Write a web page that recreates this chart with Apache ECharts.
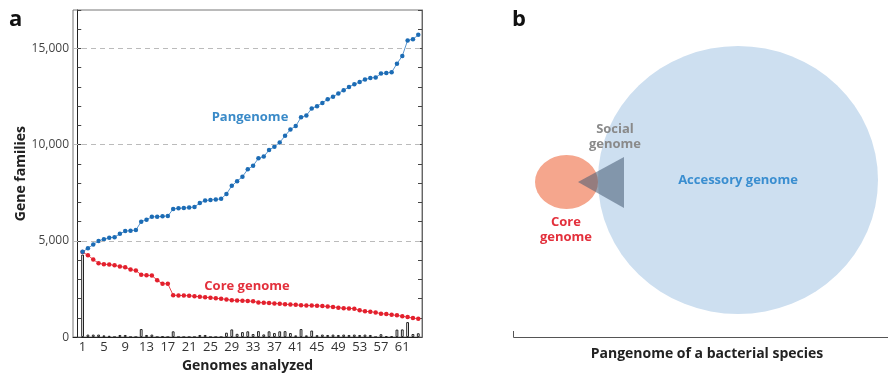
<!DOCTYPE html>
<html>
<head>
<meta charset="utf-8">
<script src="https://cdn.jsdelivr.net/npm/echarts@6/dist/echarts.min.js"></script>
<style>html,body{margin:0;padding:0;background:#fff}#c{width:888px;height:378px}</style>
</head>
<body>
<div id="c"></div>
<script>
const genomes = [1,2,3,4,5,6,7,8,9,10,11,12,13,14,15,16,17,18,19,20,21,22,23,24,25,26,27,28,29,30,31,32,33,34,35,36,37,38,39,40,41,42,43,44,45,46,47,48,49,50,51,52,53,54,55,56,57,58,59,60,61,62,63,64];
const pangenome = [4430,4620,4810,5000,5090,5165,5195,5365,5510,5530,5560,6000,6105,6250,6255,6285,6295,6655,6700,6705,6730,6765,6970,7095,7130,7150,7185,7440,7860,8100,8340,8720,8910,9290,9380,9720,9895,10120,10460,10790,10970,11420,11520,11880,12000,12170,12365,12485,12660,12830,13000,13140,13260,13385,13470,13490,13695,13725,13765,14210,14610,15420,15475,15715];
const coreGenome = [4420,4250,4030,3840,3790,3770,3730,3670,3630,3510,3460,3240,3220,3200,2960,2770,2770,2180,2165,2160,2145,2125,2095,2070,2045,2020,1995,1960,1920,1905,1890,1880,1860,1800,1785,1770,1750,1730,1710,1690,1675,1660,1645,1640,1625,1610,1590,1570,1525,1505,1490,1475,1390,1340,1320,1285,1215,1195,1160,1130,1080,1040,990,950];
const newGenes = [4290,130,130,130,90,70,0,110,110,0,0,420,110,130,0,30,0,300,0,0,0,0,110,110,0,0,0,230,400,170,260,300,160,310,140,300,210,300,310,210,90,420,90,340,100,130,110,130,110,130,110,130,110,130,110,0,150,40,40,390,400,780,160,200];
const xTickLabels = [1,5,9,13,17,21,25,29,33,37,41,45,49,53,57,61];
const yTickLabels = [0,5000,10000,15000];

const FONT = '"Open Sans", "Noto Sans", sans-serif';
const pair = (vals) => genomes.map((g, i) => [g, vals[i]]);

const chart = echarts.init(document.getElementById('c'), null, {renderer: 'canvas'});
chart.setOption({
  animation: false,
  textStyle: {fontFamily: FONT},
  grid: {left: 73, top: 10, right: 466, bottom: 40, show: true, borderColor: '#777', borderWidth: 1, containLabel: false},
  xAxis: {
    type: 'value', min: -0.8, max: 64.7,
    axisLine: {show: true, onZero: false, lineStyle: {color: '#222', width: 1}},
    axisTick: {show: false},
    splitLine: {show: false},
    axisLabel: {customValues: xTickLabels, color: '#333', fontSize: 13, margin: 4, fontFamily: FONT},
    name: 'Genomes analyzed', nameLocation: 'middle', nameGap: 21,
    nameTextStyle: {fontSize: 14, fontWeight: 'bold', color: '#222', fontFamily: FONT}
  },
  yAxis: [{
    type: 'value', min: 0, max: 17000, interval: 1000,
    axisLine: {show: true, lineStyle: {color: '#222', width: 1}},
    axisTick: {show: true, inside: true, length: 4, lineStyle: {color: '#444'}},
    splitLine: {show: false},
    axisLabel: {customValues: yTickLabels, color: '#444', fontSize: 12, margin: 4, fontFamily: FONT,
      formatter: v => v.toLocaleString('en-US')},
    name: 'Gene families', nameLocation: 'middle', nameGap: 44,
    nameTextStyle: {fontSize: 14, fontWeight: 'bold', color: '#222', fontFamily: FONT}
  }, {
    type: 'value', min: 0, max: 17000, interval: 1000, position: 'right',
    axisLine: {show: true, lineStyle: {color: '#666', width: 1}},
    axisTick: {show: true, inside: true, length: 4, lineStyle: {color: '#444'}},
    splitLine: {show: false},
    axisLabel: {show: false}
  }],
  series: [{
    type: 'bar', data: pair(newGenes), barWidth: 2.8,
    itemStyle: {color: '#fff', borderColor: '#222', borderWidth: 1},
    silent: true,
    markLine: {
      silent: true, symbol: 'none', label: {show: false},
      lineStyle: {type: [5, 4], color: '#bbb', width: 1},
      data: yTickLabels.slice(1).map(v => ({yAxis: v}))
    }
  }, {
    type: 'line', data: pair(coreGenome), symbol: 'circle', symbolSize: 4.5,
    itemStyle: {color: '#e3202d'}, lineStyle: {color: '#e8474f', width: 1}
  }, {
    type: 'line', data: pair(pangenome), symbol: 'circle', symbolSize: 4.5,
    itemStyle: {color: '#1c6cb5'}, lineStyle: {color: '#5b95cc', width: 1}
  }],
  graphic: [
    {type: 'text', left: 9, top: 9, style: {text: 'a', font: 'bold 22px ' + FONT, fill: '#111'}},
    {type: 'text', x: 250, y: 117, style: {text: 'Pangenome', font: 'bold 13px ' + FONT, fill: '#3a8ac8', align: 'center', verticalAlign: 'middle'}},
    {type: 'text', x: 247, y: 286, style: {text: 'Core genome', font: 'bold 13px ' + FONT, fill: '#e3303c', align: 'center', verticalAlign: 'middle'}},
    {type: 'text', left: 512, top: 9, style: {text: 'b', font: 'bold 22px ' + FONT, fill: '#111'}},
    {type: 'circle', x: 738, y: 180, scaleX: 140/134, shape: {cx: 0, cy: 0, r: 134}, style: {fill: '#cddff0'}},
    {type: 'circle', x: 566.5, y: 182, scaleX: 31.5/27, shape: {cx: 0, cy: 0, r: 27}, style: {fill: '#f5a68d'}},
    {type: 'polygon', shape: {points: [[578, 182], [624, 157], [624, 208]]}, style: {fill: 'rgba(70,90,115,0.55)'}},
    {type: 'text', x: 615, y: 129, style: {text: 'Social', font: 'bold 13px ' + FONT, fill: '#8a8a8a', align: 'center', verticalAlign: 'middle'}},
    {type: 'text', x: 615, y: 144, style: {text: 'genome', font: 'bold 13px ' + FONT, fill: '#8a8a8a', align: 'center', verticalAlign: 'middle'}},
    {type: 'text', x: 738, y: 180, style: {text: 'Accessory genome', font: 'bold 13px ' + FONT, fill: '#3a8ed0', align: 'center', verticalAlign: 'middle'}},
    {type: 'text', x: 566, y: 222, style: {text: 'Core', font: 'bold 13px ' + FONT, fill: '#e3303c', align: 'center', verticalAlign: 'middle'}},
    {type: 'text', x: 566, y: 237, style: {text: 'genome', font: 'bold 13px ' + FONT, fill: '#e3303c', align: 'center', verticalAlign: 'middle'}},
    {type: 'polyline', shape: {points: [[513.5, 331], [513.5, 337.5], [888, 337.5]]}, style: {stroke: '#555', lineWidth: 1, fill: null}},
    {type: 'text', x: 707, y: 354, style: {text: 'Pangenome of a bacterial species', font: 'bold 14px ' + FONT, fill: '#222', align: 'center', verticalAlign: 'middle'}}
  ]
});
</script>
</body>
</html>
